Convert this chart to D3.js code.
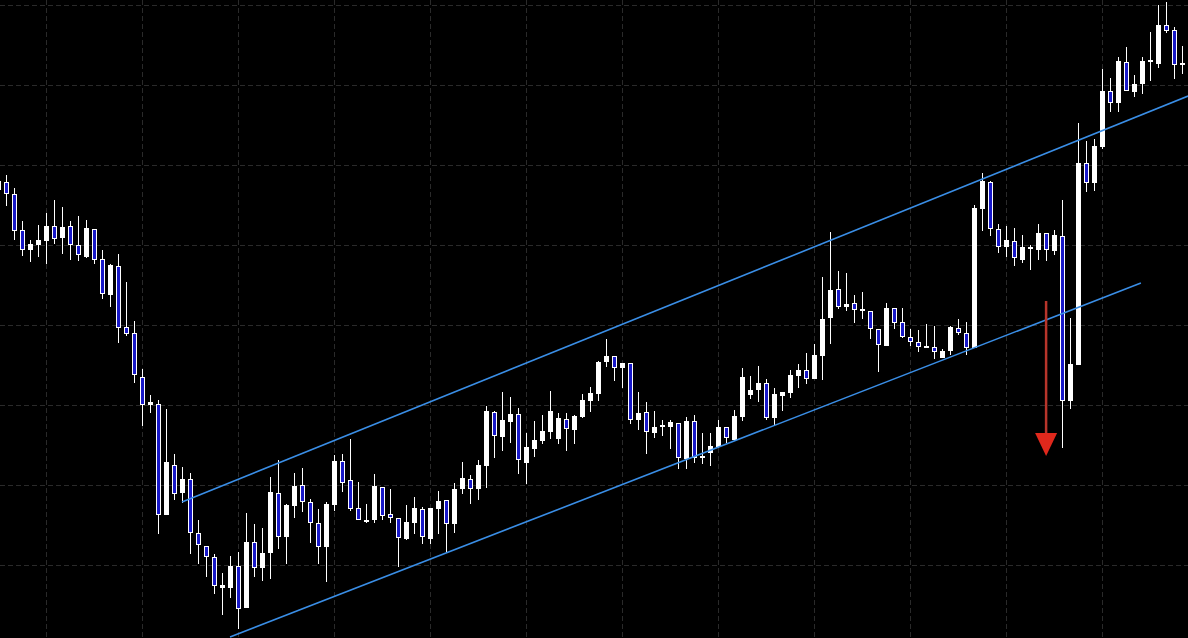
<!DOCTYPE html>
<html>
<head>
<meta charset="utf-8">
<script src="https://cdn.jsdelivr.net/npm/d3@7/dist/d3.min.js"></script>
<style>
  html, body { margin: 0; padding: 0; background: #000; }
  svg { display: block; }
</style>
</head>
<body>
<svg id="chart" width="1188" height="638"></svg>
<script>
// ---- DATA (price in points) ----
const openV  = [451,458,446,410,391,396,400,414,403,414,395,384,411,381,346,374,313,307,263,236,
                236,126,175,148,161,107,94,83,53,53,74,33,98,73,88,147,104,135,155,138,
                117,94,136,179,160,132,119,121,153,126,122,102,118,131,102,132,140,117,152,161,
                152,175,228,204,219,226,178,192,200,209,202,221,211,224,240,247,279,284,273,277,
                221,228,208,214,214,217,182,219,183,188,194,213,201,224,246,251,257,223,245,248,
                265,270,262,285,323,351,334,337,330,329,311,295,332,318,303,298,293,293,283,290,
                312,307,293,432,458,411,394,399,381,392,391,407,390,404,240,276,477,458,494,549,
                538,578,549,557,579,577,615,610,576];
const highV  = [464,465,452,419,400,415,427,440,433,419,424,420,411,390,376,386,358,319,271,245,
                240,231,186,173,167,120,94,86,67,84,88,127,116,112,163,180,136,167,172,141,
                131,138,185,186,201,158,136,166,153,151,122,135,143,133,132,149,140,157,178,165,
                180,234,229,248,243,232,207,219,225,249,227,227,225,246,253,279,301,284,277,277,
                248,238,229,220,220,217,223,225,207,207,220,213,230,272,264,274,261,252,248,270,
                276,287,296,363,408,369,367,345,348,329,311,337,332,332,311,310,316,314,291,314,
                321,318,435,467,459,416,414,412,405,395,416,407,410,440,322,517,499,501,571,562,
                583,593,565,583,608,635,638,613,594];
const lowV   = [447,435,401,385,379,384,377,397,387,381,380,383,377,342,334,298,305,258,215,228,
                107,126,141,138,87,77,64,47,26,43,12,33,64,60,62,92,77,123,129,98,
                77,59,130,149,130,121,118,118,121,118,74,101,107,97,97,107,88,108,147,137,
                141,153,183,190,198,167,157,184,197,202,197,190,197,223,229,240,274,260,253,217,
                211,187,203,205,192,172,172,178,177,175,193,198,200,220,242,239,221,215,230,243,
                253,257,262,261,297,332,330,318,322,302,269,295,312,303,295,289,293,282,283,286,
                306,286,293,410,405,388,384,375,378,371,381,380,386,193,232,276,449,450,492,529,
                529,550,544,547,560,573,608,562,567];
const closeV = [459,447,410,391,396,400,414,402,413,396,386,412,381,347,375,313,307,266,236,238,
                126,178,147,161,108,96,84,55,55,74,32,98,73,87,148,104,135,154,139,118,
                94,136,179,158,132,121,120,154,125,123,103,118,132,104,132,139,117,151,162,152,
                175,229,205,220,226,181,193,200,209,229,222,212,224,240,247,278,284,273,277,221,
                227,209,213,215,218,183,219,183,184,194,213,203,224,263,250,257,223,246,248,265,
                270,262,285,321,350,334,336,331,331,312,296,332,318,304,299,294,294,289,289,313,
                308,293,432,459,412,394,400,383,393,393,407,391,405,240,276,477,458,494,549,538,
                579,550,556,579,580,615,610,576,577];

// grid levels (prices) and grid columns (candle indices)
const gridPrices  = [635, 555, 475, 395, 315, 235, 155, 75];
const gridCandles = [6, 18, 30, 42, 54, 66, 78, 90, 102, 114, 126, 138];

// trend channel lines: [candleIndex, price]
const upperLine = [[22.94, 138], [148.7, 544]];
const lowerLine = [[28.94, 3], [142.8, 357]];
// red arrow: [candleIndex, startPrice, tipPrice]
const arrowPts = [130.95, 339, 184];

// ---- CHART ----
const W = 1188, H = 638;
const svg = d3.select("#chart");
svg.append("rect").attr("width", W).attr("height", H).attr("fill", "#000");

const x = d3.scaleLinear().domain([0, 148]).range([-1.5, 1182.5]);
const y = d3.scaleLinear().domain([0, 640]).range([640, 0]);

const candles = openV.map((o, i) => ({ i, o, h: highV[i], l: lowV[i], c: closeV[i] }));

// grid
const grid = svg.append("g").attr("stroke", "#2a2a2a").attr("stroke-width", 1)
  .attr("stroke-dasharray", "5,3").attr("fill", "none");
grid.selectAll("line.h").data(gridPrices).join("line").attr("class", "h")
  .attr("x1", 0).attr("x2", W)
  .attr("y1", d => Math.round(y(d)) + 0.5).attr("y2", d => Math.round(y(d)) + 0.5);
grid.selectAll("line.v").data(gridCandles).join("line").attr("class", "v")
  .attr("y1", 0).attr("y2", H)
  .attr("x1", d => x(d)).attr("x2", d => x(d));

// candles
const g = svg.append("g");
g.selectAll("line.wick").data(candles).join("line").attr("class", "wick")
  .attr("x1", d => x(d.i)).attr("x2", d => x(d.i))
  .attr("y1", d => y(d.h)).attr("y2", d => y(d.l) + 1)
  .attr("stroke", "#fff").attr("stroke-width", 1);

g.selectAll("rect.body").data(candles).join("rect").attr("class", "body")
  .attr("x", d => x(d.i) - 2)
  .attr("width", 4)
  .attr("y", d => y(Math.max(d.o, d.c)) + 0.5)
  .attr("height", d => Math.max(Math.abs(d.o - d.c), 1))
  .attr("fill", d => d.c >= d.o ? "#ffffff" : "#1818c8")
  .attr("stroke", "#fff").attr("stroke-width", 1);

// trend lines
const lineGen = d3.line().x(d => x(d[0])).y(d => y(d[1]));
[upperLine, lowerLine].forEach(l => {
  svg.append("path").attr("d", lineGen(l))
    .attr("fill", "none").attr("stroke", "#3a8ee6").attr("stroke-width", 1.6);
});

// red arrow
const ax = x(arrowPts[0]);
const headLen = 23, headHalf = 11;
svg.append("line")
  .attr("x1", ax).attr("x2", ax)
  .attr("y1", y(arrowPts[1])).attr("y2", y(arrowPts[2]) - headLen + 2)
  .attr("stroke", "#b8352b").attr("stroke-width", 2.5);
svg.append("path")
  .attr("d", `M${ax - headHalf},${y(arrowPts[2]) - headLen} L${ax + headHalf},${y(arrowPts[2]) - headLen} L${ax},${y(arrowPts[2])} Z`)
  .attr("fill", "#e0281c");
</script>
</body>
</html>
